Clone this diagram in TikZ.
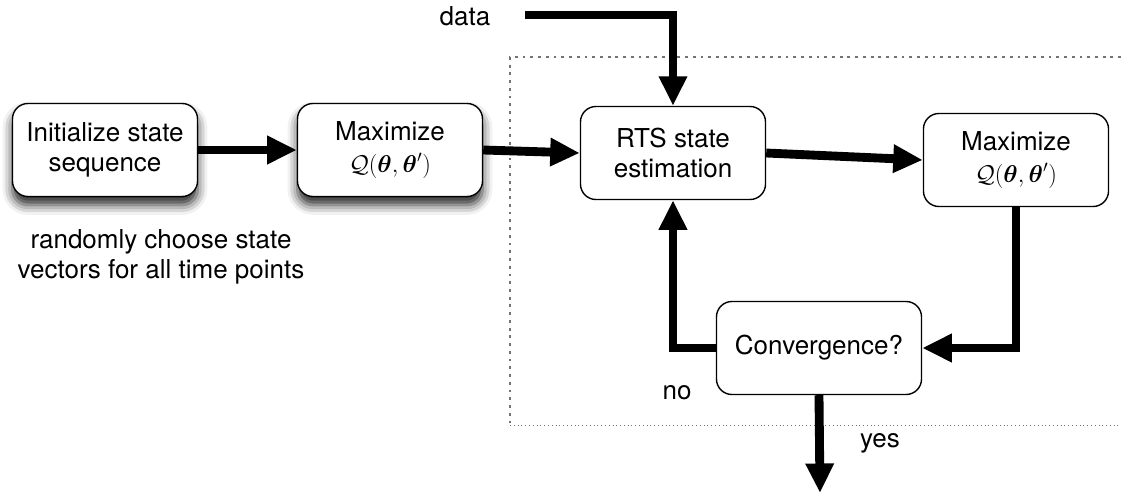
\documentclass[tikz,border=0pt]{standalone}
\usepackage{amsmath}
\usepackage{amssymb}
\usepackage{fontspec}
\setmainfont{TeX Gyre Heros}
\usetikzlibrary{arrows.meta,shadows.blur}

\begin{document}
\begin{tikzpicture}[x=0.025cm,y=-0.025cm,
		font=\fontsize{18.5}{21}\selectfont,
		procbox/.style={draw,line width=1pt,rounded corners=11pt,fill=white,align=center,
			minimum width=4.625cm,minimum height=2.325cm,inner sep=2pt},
		shadebox/.style={procbox,blur shadow={shadow xshift=0pt,shadow yshift=-6pt,
			shadow blur radius=7pt,shadow opacity=85}},
		flow/.style={line width=6.3pt,-{Triangle[length=21pt,width=19pt]}},
		loopframe/.style={black!55,line width=0.9pt,dash pattern=on 2pt off 3.5pt}]
		\useasboundingbox (0,0) rectangle (1121,495);
		% region of the iteration
		\coordinate (F1) at (1121,57);
		\coordinate (F2) at (510,57);
		\coordinate (F3) at (510,425);
		\coordinate (F4) at (1121,425);
		\draw[loopframe] (F1)--(F2)--(F3);
		\draw[black!55,line width=0.7pt,dotted] (F3)--(F4);
		% boxes
		\node[shadebox] (init) at (105,150) {Initialize state\\sequence};
		\node[shadebox] (max1) at (390,150) {Maximize\\[2pt]$\mathcal{Q}(\boldsymbol{\theta},\boldsymbol{\theta}')$};
		\node[procbox] (rts) at (673,153) {RTS state\\estimation};
		\node[procbox] (max2) at (1016,160) {Maximize\\[2pt]$\mathcal{Q}(\boldsymbol{\theta},\boldsymbol{\theta}')$};
		\node[procbox,minimum width=5.125cm] (conv) at (819,348) {Convergence?};
		% labels
		\node (data) at (465,16) {data};
		\node[align=center] (rand) at (161,257) {randomly choose state\\vectors for all time points};
		\node (no) at (677,393) {no};
		\node (yes) at (880,443) {yes};
		\coordinate (src) at (525,15);
		\coordinate (out) at (820,493);
		% arrows
		\draw[flow] (init)--(max1);
		\draw[flow] (max1.east)--(rts.west);
		\draw[flow] (src)-|(rts.north);
		\draw[flow] (rts.east)--(max2.west);
		\draw[flow] (max2.south)|-(conv.east);
		\draw[flow] (conv.west)-|(rts.south);
		\draw[flow] (conv.south)--(out);
	\end{tikzpicture}
\end{document}
